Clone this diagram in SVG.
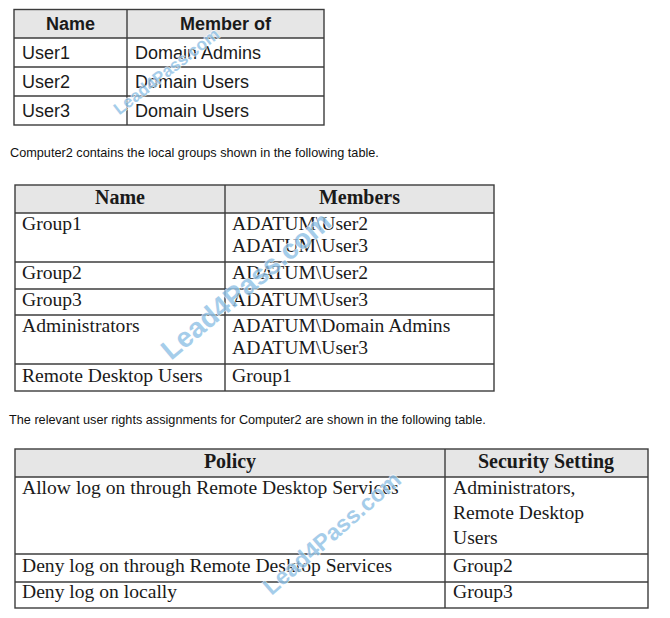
<svg xmlns="http://www.w3.org/2000/svg" width="670" height="618" viewBox="0 0 670 618">
<style>
.bg{fill:#ffffff}
.hd{fill:#e6e6e6}
.ln{stroke:#3c3c3c;stroke-width:1.4;fill:none}
.cal{font-family:"Liberation Sans",Arial,sans-serif;font-size:18px;fill:#1a1a1a}
.calb{font-family:"Liberation Sans",Arial,sans-serif;font-size:18px;font-weight:bold;fill:#1a1a1a;text-anchor:middle}
.tnr{font-family:"Liberation Serif","Times New Roman",serif;font-size:19.6px;fill:#1a1a1a}
.tnrb{font-family:"Liberation Serif","Times New Roman",serif;font-size:20px;font-weight:bold;fill:#1a1a1a;text-anchor:middle}
.cap{font-family:"Liberation Sans",Arial,sans-serif;font-size:12.7px;fill:#111}
.wm{font-family:"Liberation Sans",Arial,sans-serif;font-weight:bold;fill:#8fc1e6;stroke:#ffffff;stroke-width:1.2;paint-order:stroke;opacity:0.8;text-anchor:middle}
</style>
<rect class="bg" x="0" y="0" width="670" height="618"/>

<g id="table-users">
  <rect class="hd" x="14" y="9.5" width="310" height="28.5"/>
  <rect class="ln" x="14" y="9.5" width="310" height="115.5"/>
  <line class="ln" x1="127" y1="9.5" x2="127" y2="125"/>
  <line class="ln" x1="14" y1="38" x2="324" y2="38"/>
  <line class="ln" x1="14" y1="67" x2="324" y2="67"/>
  <line class="ln" x1="14" y1="96" x2="324" y2="96"/>
  <text class="calb" x="70.5" y="30">Name</text>
  <text class="calb" x="225.5" y="30">Member of</text>
  <text class="cal" x="22" y="59">User1</text>
  <text class="cal" x="135" y="59">Domain Admins</text>
  <text class="cal" x="22" y="88">User2</text>
  <text class="cal" x="135" y="88">Domain Users</text>
  <text class="cal" x="22" y="117">User3</text>
  <text class="cal" x="135" y="117">Domain Users</text>
</g>

<text id="caption-groups" class="cap" x="10" y="157">Computer2 contains the local groups shown in the following table.</text>

<g id="table-groups">
  <rect class="hd" x="15" y="185" width="479" height="28"/>
  <rect class="ln" x="15" y="185" width="479" height="206"/>
  <line class="ln" x1="225" y1="185" x2="225" y2="391"/>
  <line class="ln" x1="15" y1="213" x2="494" y2="213"/>
  <line class="ln" x1="15" y1="262" x2="494" y2="262"/>
  <line class="ln" x1="15" y1="289" x2="494" y2="289"/>
  <line class="ln" x1="15" y1="315" x2="494" y2="315"/>
  <line class="ln" x1="15" y1="364" x2="494" y2="364"/>
  <text class="tnrb" x="120" y="204">Name</text>
  <text class="tnrb" x="359.5" y="204">Members</text>
  <text class="tnr" x="22" y="230">Group1</text>
  <text class="tnr" x="232" y="230">ADATUM\User2</text>
  <text class="tnr" x="232" y="252">ADATUM\User3</text>
  <text class="tnr" x="22" y="279">Group2</text>
  <text class="tnr" x="232" y="279">ADATUM\User2</text>
  <text class="tnr" x="22" y="306">Group3</text>
  <text class="tnr" x="232" y="306">ADATUM\User3</text>
  <text class="tnr" x="22" y="332">Administrators</text>
  <text class="tnr" x="232" y="332">ADATUM\Domain Admins</text>
  <text class="tnr" x="232" y="354">ADATUM\User3</text>
  <text class="tnr" x="22" y="382">Remote Desktop Users</text>
  <text class="tnr" x="232" y="382">Group1</text>
</g>

<text id="caption-rights" class="cap" x="9" y="424">The relevant user rights assignments for Computer2 are shown in the following table.</text>

<g id="table-rights">
  <rect class="hd" x="15" y="449" width="633" height="28"/>
  <rect class="ln" x="15" y="449" width="633" height="159"/>
  <line class="ln" x1="445" y1="449" x2="445" y2="608"/>
  <line class="ln" x1="15" y1="477" x2="648" y2="477"/>
  <line class="ln" x1="15" y1="554" x2="648" y2="554"/>
  <line class="ln" x1="15" y1="582" x2="648" y2="582"/>
  <text class="tnrb" x="230" y="468">Policy</text>
  <text class="tnrb" x="546" y="468">Security Setting</text>
  <text class="tnr" x="22" y="494">Allow log on through Remote Desktop Services</text>
  <text class="tnr" x="453" y="494">Administrators,</text>
  <text class="tnr" x="453" y="519">Remote Desktop</text>
  <text class="tnr" x="453" y="544">Users</text>
  <text class="tnr" x="22" y="572">Deny log on through Remote Desktop Services</text>
  <text class="tnr" x="453" y="572">Group2</text>
  <text class="tnr" x="22" y="598">Deny log on locally</text>
  <text class="tnr" x="453" y="598">Group3</text>
</g>

<g id="watermarks">
  <text class="wm" font-size="17" transform="translate(170,76) rotate(-38)">Lead4Pass.com</text>
  <text class="wm" font-size="28" transform="translate(252,293) rotate(-40)">Lead4Pass.com</text>
  <text class="wm" font-size="23" transform="translate(337,539) rotate(-41)">Lead4Pass.com</text>
</g>
</svg>
